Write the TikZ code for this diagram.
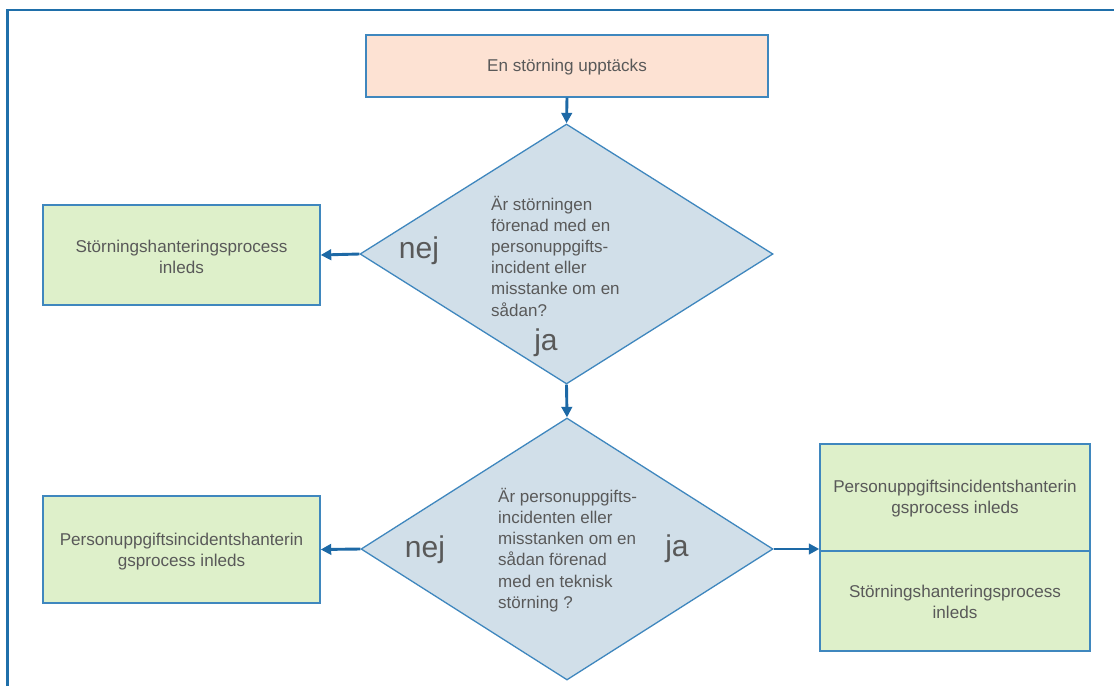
\documentclass[tikz,border=0pt]{standalone}
\usepackage{fontspec}
\setmainfont{Liberation Sans}
\usetikzlibrary{shapes.geometric,arrows.meta,calc}
\definecolor{framecol}{HTML}{1F6FAA}
\definecolor{bordercol}{HTML}{3F87BE}
\definecolor{arrowcol}{HTML}{1D69A6}
\definecolor{peach}{HTML}{FDE2D3}
\definecolor{greenfill}{HTML}{DEF0CA}
\definecolor{diafill}{HTML}{D1DFE9}
\definecolor{txt}{HTML}{595959}
\begin{document}
\begin{tikzpicture}[x=1pt,y=-1pt,
  box/.style={draw=bordercol, line width=1.4pt, inner sep=0pt},
  btext/.style={inner sep=0pt, align=center, text=txt, font=\fontsize{17.1}{21}\selectfont},
  dia/.style={draw=bordercol, line width=1.3pt, fill=diafill, diamond, inner sep=0pt},
  qtext/.style={inner sep=0pt, align=left, text=txt, font=\fontsize{17}{21.2}\selectfont},
  yn/.style={inner sep=0pt, text=txt, font=\fontsize{30}{31}\selectfont},
  arr/.style={draw=arrowcol, line width=2.9pt, -{Triangle[length=10.5pt,width=10.5pt]}},
  framestyle/.style={draw=framecol, line width=2.2pt}]
\useasboundingbox (0,0) rectangle (1114,686);
\fill[white] (0,0) rectangle (1114,686);
\draw[framestyle] (7.5,686) -- (7.5,10) -- (1114,10);

\node[box, fill=peach, minimum width=402pt, minimum height=62pt] (start) at (567,66) {};
\node[btext] (startt) at (567,67.5) {En störning upptäcks};

\node[dia, minimum width=413pt, minimum height=260pt] (d1) at (566.5,254) {};
\node[qtext, anchor=west] (q1) at (491,256) {Är störningen\\förenad med en\\personuppgifts-\\incident eller\\misstanke om en\\sådan?};
\node[yn] (nej1) at (419,251) {nej};
\node[yn] (ja1) at (546,343) {ja};

\node[box, fill=greenfill, minimum width=277pt, minimum height=100pt] (left1) at (181.5,255) {};
\node[btext] (left1t) at (181.5,256.5) {Störningshanteringsprocess\\inleds};

\node[dia, minimum width=412pt, minimum height=262pt] (d2) at (567,549) {};
\node[qtext, anchor=west] (q2) at (498,550) {Är personuppgifts-\\incidenten eller\\misstanken om en\\sådan förenad\\med en teknisk\\störning ?};
\node[yn] (nej2) at (425,550) {nej};
\node[yn] (ja2) at (677,549) {ja};

\node[box, fill=greenfill, minimum width=277pt, minimum height=107pt] (left2) at (181.5,549.5) {};
\node[btext] (left2t) at (181.5,551.5) {Personuppgiftsincidentshanterin\\gsprocess inleds};

\node[box, fill=greenfill, minimum width=270pt, minimum height=107pt] (rb1) at (955,497.5) {};
\node[btext] (rb1t) at (955,499) {Personuppgiftsincidentshanterin\\gsprocess inleds};
\node[box, fill=greenfill, minimum width=270pt, minimum height=100pt] (rb2) at (955,601) {};
\node[btext] (rb2t) at (955,602) {Störningshanteringsprocess\\inleds};

\draw[arr] (start.south) -- (d1.north);
\draw[arr] (d1.west) -- (left1.east);
\draw[arr] (d1.south) -- (d2.north);
\draw[arr] (d2.west) -- (left2.east);
\draw[arr] (d2.east) -- (d2.east -| rb1.west);
\end{tikzpicture}
\end{document}
